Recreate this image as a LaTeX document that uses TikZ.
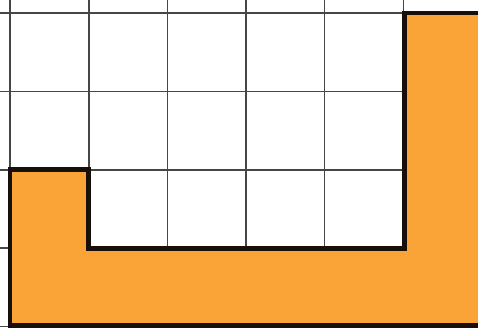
\documentclass[tikz,border=0pt]{standalone}
\definecolor{shapeorange}{RGB}{250,164,56}
\definecolor{gridgray}{RGB}{70,70,70}
\definecolor{edgedark}{RGB}{25,15,10}
\tikzset{
  gridline/.style={draw=gridgray, line width=1.6pt},
  shapefill/.style={fill=shapeorange, draw=edgedark, line width=4.8pt, line join=miter},
}
\begin{document}
\begin{tikzpicture}[x=1pt,y=-1pt]
\useasboundingbox (0,0) rectangle (478,327);
\clip (0,0) rectangle (478,327);
\fill[white] (0,0) rectangle (478,327);
% grid
\foreach \gx in {10,88.8,167.4,246,324.6,403.5}
  \draw[gridline] (\gx,-5) -- (\gx,335);
\foreach \gy in {13,91.4,169.8,248.2,326.6}
  \draw[gridline] (-5,\gy) -- (485,\gy);
% shape
\draw[shapefill] (10,169.8) -- (88.8,169.8) -- (88.8,248.2) -- (404.5,248.2) -- (404.5,13) -- (495,13) -- (495,325.2) -- (10,325.2) -- cycle;
\end{tikzpicture}
\end{document}
